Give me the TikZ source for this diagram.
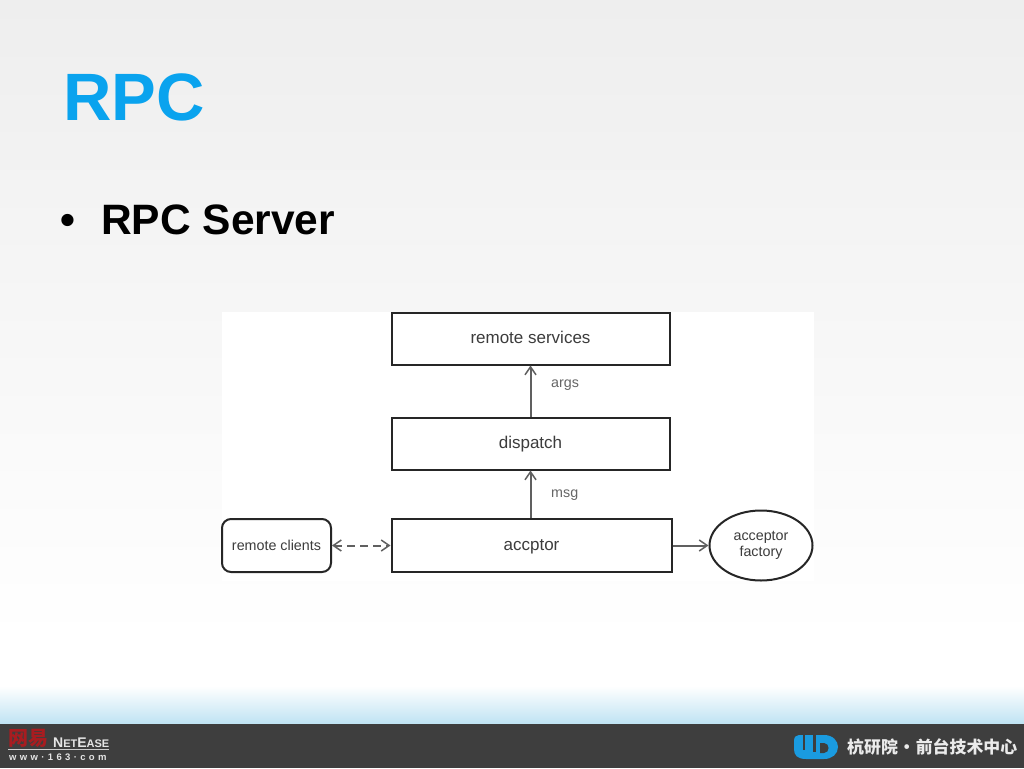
\documentclass[tikz,border=0pt]{standalone}
\usepackage{fontspec}
\setmainfont{Liberation Sans}
\newfontfamily\cjkfont{Noto Sans CJK SC}
\usetikzlibrary{shapes.geometric,arrows.meta}
\definecolor{titleblue}{HTML}{0AA3EE}
\definecolor{barcol}{HTML}{3E3E3E}
\definecolor{logoblue}{HTML}{1A9BE0}
\definecolor{lbl}{HTML}{3C3C3C}
\definecolor{conn}{HTML}{606060}
\definecolor{skyb}{HTML}{BFE3F3}
\definecolor{bgtop}{HTML}{EEEEEE}
\definecolor{nered}{HTML}{A81C20}
\tikzset{
  x=1pt,y=-1pt,
  procbox/.style={draw=black!85,line width=2pt,fill=white,minimum height=52pt,inner sep=0pt,font=\fontsize{17}{19}\selectfont,text=lbl,text height=13pt,text depth=4pt},
  clientbox/.style={procbox,rounded corners=9pt,minimum width=109pt,minimum height=53pt,font=\fontsize{14.3}{16}\selectfont},
  factory/.style={draw=black!85,line width=2pt,fill=white,ellipse,minimum width=103pt,minimum height=70pt,inner sep=0pt,align=center,font=\fontsize{14.3}{16}\selectfont,text=lbl},
  link/.style={draw=conn,line width=2pt,-{Straight Barb[length=8pt,width=11pt,line width=1.5pt]}},
  biglink/.style={link,dashed,dash pattern=on 8pt off 5pt,{Straight Barb[length=8pt,width=11pt,line width=1.5pt]}-{Straight Barb[length=8pt,width=11pt,line width=1.5pt]}},
  edgelabel/.style={font=\fontsize{14.3}{16}\selectfont,text=black!60,inner sep=0pt},
  lnode/.style={inner sep=0pt,anchor=center}
}
\begin{document}
\begin{tikzpicture}
\useasboundingbox (0,0) rectangle (1024,768);
% background
\shade[top color=bgtop,bottom color=white] (0,0) rectangle (1024,640);
\fill[white] (0,640) rectangle (1024,686);
\shade[top color=white,bottom color=skyb] (0,686) rectangle (1024,724);
\fill[barcol] (0,724) rectangle (1024,768);
\fill[white] (222,312) rectangle (814,581);
% title
\node[lnode,anchor=base west,text=titleblue,font=\fontsize{67}{70}\selectfont\bfseries] (title) at (63,120) {RPC};
\node[lnode,anchor=base west,font=\fontsize{42.5}{44}\selectfont\bfseries] (bullet) at (60,234) {•};
\node[lnode,anchor=base west,font=\fontsize{42.5}{44}\selectfont\bfseries] (sub) at (101,234) {RPC Server};
% diagram
\node[procbox,minimum width=278pt] (services) at (530.5,338.5) {remote services};
\node[procbox,minimum width=278pt] (dispatch) at (530.5,443.5) {dispatch};
\node[procbox,minimum width=280pt,minimum height=53pt] (acceptor) at (531.5,545.5) {accptor};
\node[clientbox] (clients) at (276.5,545.5) {remote clients};
\node[factory] (fact) at (761,545.5) {acceptor\\factory};
\draw[link] (dispatch.north) -- (services.south);
\draw[link] (acceptor.north -| dispatch.north) -- (dispatch.south);
\draw[biglink] (clients.east) -- (acceptor.west);
\draw[link] (acceptor.east) -- (fact.west);
\node[edgelabel,anchor=base west] (args) at (551,387) {args};
\node[edgelabel,anchor=base west] (msg) at (551,497) {msg};
% footer left
\node[lnode,anchor=base west,text=nered,font=\cjkfont\fontsize{20}{22}\selectfont\bfseries] (ne) at (8,745) {网易};
\node[lnode,anchor=base west,text=white!90!black,font=\fontsize{14}{15}\selectfont\bfseries] (netease) at (53,747) {N\fontsize{11}{12}\selectfont ET\fontsize{14}{15}\selectfont E\fontsize{11}{12}\selectfont ASE};
\coordinate (ruleL) at (8,749.5);
\coordinate (ruleR) at (109,749.5);
\draw[white!80!black,line width=1pt] (ruleL) -- (ruleR);
\node[lnode,anchor=base west,text=white!90!black,font=\fontsize{9.5}{11}\selectfont\bfseries] (www) at (9,760) {w\hspace{3.35pt}w\hspace{3.35pt}w\hspace{3.35pt}·\hspace{3.35pt}1\hspace{3.35pt}6\hspace{3.35pt}3\hspace{3.35pt}·\hspace{3.35pt}c\hspace{3.35pt}o\hspace{3.35pt}m};
% footer right logo
\fill[logoblue] (794,741) .. controls (794,737) and (796,735) .. (799,735) -- (824,735) .. controls (833,735) and (838,741) .. (838,747) .. controls (838,754) and (832,759) .. (824,759) -- (806,759) .. controls (797,759) and (794,755) .. (794,749) -- cycle;
\draw[barcol,line width=2.6pt] (804,734.5) -- (804,750);
\draw[barcol,line width=2.4pt] (814.5,734.5) -- (814.5,752);
\fill[barcol] (820,743) -- (824,743) .. controls (830,743) and (830,753) .. (824,753) -- (820,753) -- cycle;
\node[lnode,anchor=base west,text=white!92!black,font=\cjkfont\fontsize{16.9}{20}\selectfont\bfseries] (dept) at (847,753.5) {杭研院\hspace{0.5pt}·\hspace{0.5pt}前台技术中心};
\end{tikzpicture}
\end{document}
